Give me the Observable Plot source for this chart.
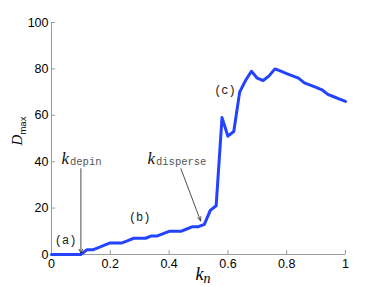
<!DOCTYPE html>
<html><head><meta charset="utf-8">
<script src="https://cdn.jsdelivr.net/npm/d3@7"></script>
<script src="https://cdn.jsdelivr.net/npm/@observablehq/plot@0.6"></script>
<style>body{margin:0;background:#fff}</style>
</head><body><div id="c"></div>
<script>
const kn = [0,0.02,0.04,0.06,0.08,0.10,0.12,0.14,0.16,0.18,0.20,0.22,0.24,0.26,0.28,0.30,0.32,0.34,0.36,0.38,0.40,0.42,0.44,0.46,0.48,0.50,0.52,0.54,0.56,0.58,0.60,0.62,0.64,0.66,0.68,0.70,0.72,0.74,0.76,0.78,0.80,0.82,0.84,0.86,0.88,0.90,0.92,0.94,0.96,0.98,1.00];
const dmax = [0,0,0,0,0,0,2,2,3,4,5,5,5,6,7,7,7,8,8,9,10,10,10,11,12,12,13,19,21,59,51,53,70,75,79,76,75,77,80,79,78,77,76,74,73,72,71,69,68,67,66];
const xTicks = [0,0.2,0.4,0.6,0.8,1];
const yTicks = [0,20,40,60,80,100];
const regionLabels = ["(a)","(b)","(c)"];
const regionX = [0.048,0.30,0.59];
const regionY = [6.3,16,71];
const arrowNames = ["depin","disperse"];
const arrowX1 = [0.10,0.44];
const arrowY1 = [37,37];
const arrowX2 = [0.10,0.507];
const arrowY2 = [0.6,14.5];
const arrowLabelX = [0.0595,0.352];
const arrowLabelY = [41.5,41.5];

const data = kn.map((k,i)=>({k, d: dmax[i]}));
const regions = regionLabels.map((t,i)=>({t, x: regionX[i], y: regionY[i]}));
const arrows = arrowNames.map((n,i)=>({n, x1: arrowX1[i], y1: arrowY1[i], x2: arrowX2[i], y2: arrowY2[i], lx: arrowLabelX[i], ly: arrowLabelY[i]}));

const chart = Plot.plot({
  width: 382, height: 287,
  marginLeft: 51, marginRight: 37, marginTop: 22, marginBottom: 33,
  style: {fontFamily: "Liberation Sans, Arial, sans-serif", fontSize: "12px", color: "#000", background: "#fff"},
  x: {domain: [0,1]},
  y: {domain: [0,100]},
  marks: [
    Plot.axisX({ticks: xTicks, tickSize: -4, tickPadding: 9, label: null, stroke: "#999", tickFormat: d => String(d), fontSize: 12.5}),
    Plot.axisY({ticks: yTicks, tickSize: -4, tickPadding: 7, label: null, stroke: "#999", fontSize: 12.5}),
    Plot.ruleY([0], {stroke: "#999"}),
    Plot.ruleX([0], {stroke: "#999"}),
    Plot.line(data, {x: "k", y: "d", stroke: "#2343ff", strokeWidth: 3, strokeLinejoin: "round"}),
    Plot.arrow(arrows, {x1: "x1", y1: "y1", x2: "x2", y2: "y2", stroke: "#222", strokeWidth: 0.8, headLength: 8, headAngle: 50}),
    Plot.text(regions, {x: "x", y: "y", text: "t", fontFamily: "Liberation Mono, monospace", fontSize: 12, fill: "#222"}),
    Plot.text(arrows, {x: "lx", y: "ly", text: d => "k", textAnchor: "end", dx: 0, fontFamily: "Liberation Serif, serif", fontStyle: "italic", fontSize: 17, fill: "#111"}),
    Plot.text(arrows, {x: "lx", y: "ly", text: "n", textAnchor: "start", dx: 1, dy: 3, fontFamily: "Liberation Mono, monospace", fontSize: 10.5, fill: "#555"})
  ]
});
document.getElementById("c").appendChild(chart);
const svg = d3.select(chart);
// axis labels
const xl = svg.append("text").attr("x", 203).attr("y", 280).attr("text-anchor", "middle")
  .attr("font-family", "Liberation Serif, serif").attr("font-style", "italic").attr("font-size", 18);
xl.append("tspan").text("k");
xl.append("tspan").attr("font-size", 14).attr("dy", 3).text("n");
const yl = svg.append("text").attr("transform", "translate(22,131) rotate(-90)").attr("text-anchor", "middle");
yl.append("tspan").attr("font-family", "Liberation Serif, serif").attr("font-style", "italic").attr("font-size", 15).text("D");
yl.append("tspan").attr("font-family", "Liberation Sans, Arial, sans-serif").attr("font-size", 9.5).attr("dy", 4).text("max");
</script>
</body></html>
